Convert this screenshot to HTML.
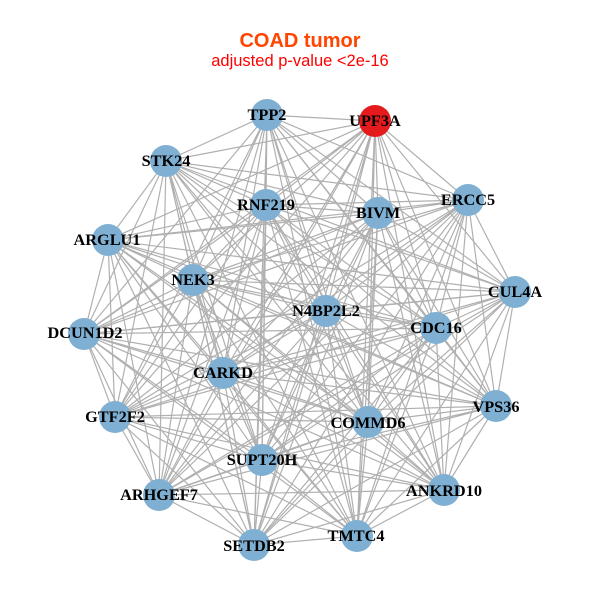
<!DOCTYPE html>
<html><head><meta charset="utf-8"><style>html,body{margin:0;padding:0;background:#fff}svg{display:block}</style></head><body>
<svg width="600" height="600" viewBox="0 0 600 600" xmlns="http://www.w3.org/2000/svg">
<rect width="600" height="600" fill="#fff"/>
<text x="300" y="47" text-anchor="middle" font-family="'Liberation Sans',sans-serif" font-weight="bold" font-size="20" fill="#FF4500">COAD tumor</text>
<text x="300" y="66" text-anchor="middle" font-family="'Liberation Sans',sans-serif" font-size="16.5" fill="#FF0000">adjusted p-value &lt;2e-16</text>
<g fill="none" stroke="#b0b0b0" stroke-width="1.2">
<path d="M267 115L375 121M267 115L166 161M267 115L468 200M267 115L266 205M267 115L378 213M267 115L193 280M267 115L515 292M267 115L326 311M267 115L436 328M267 115L84 334M267 115L223 373M267 115L496 406M267 115L115 417M267 115L368 422M267 115L262 460M267 115L444 490M267 115L159 495M267 115L357 536M267 115L254 545"/>
<path d="M375 121L166 161M375 121L468 200M375 121L266 205M375 121L378 213M375 121L108 240M375 121L193 280M375 121L515 292M375 121L326 311M375 121L436 328M375 121L84 334M375 121L223 373M375 121L496 406M375 121L115 417M375 121L368 422M375 121L262 460M375 121L444 490M375 121L159 495M375 121L357 536M375 121L254 545"/>
<path d="M166 161L468 200M166 161L266 205M166 161L378 213M166 161L108 240M166 161L193 280M166 161L515 292M166 161L326 311M166 161L436 328M166 161L84 334M166 161L223 373M166 161L496 406M166 161L115 417M166 161L368 422M166 161L262 460M166 161L444 490M166 161L159 495M166 161L357 536M166 161L254 545"/>
<path d="M468 200L266 205M468 200L378 213M468 200L108 240M468 200L193 280M468 200L515 292M468 200L326 311M468 200L436 328M468 200L84 334M468 200L223 373M468 200L496 406M468 200L115 417M468 200L368 422M468 200L262 460M468 200L444 490M468 200L159 495M468 200L357 536M468 200L254 545"/>
<path d="M266 205L378 213M266 205L108 240M266 205L193 280M266 205L515 292M266 205L326 311M266 205L436 328M266 205L84 334M266 205L223 373M266 205L496 406M266 205L115 417M266 205L368 422M266 205L262 460M266 205L444 490M266 205L159 495M266 205L357 536M266 205L254 545"/>
<path d="M378 213L108 240M378 213L193 280M378 213L515 292M378 213L326 311M378 213L436 328M378 213L84 334M378 213L223 373M378 213L496 406M378 213L115 417M378 213L368 422M378 213L262 460M378 213L444 490M378 213L159 495M378 213L357 536M378 213L254 545"/>
<path d="M108 240L193 280M108 240L515 292M108 240L326 311M108 240L436 328M108 240L84 334M108 240L223 373M108 240L496 406M108 240L115 417M108 240L368 422M108 240L262 460M108 240L444 490M108 240L159 495M108 240L357 536M108 240L254 545"/>
<path d="M193 280L515 292M193 280L326 311M193 280L436 328M193 280L84 334M193 280L223 373M193 280L496 406M193 280L115 417M193 280L368 422M193 280L262 460M193 280L444 490M193 280L159 495M193 280L357 536M193 280L254 545"/>
<path d="M515 292L326 311M515 292L436 328M515 292L84 334M515 292L223 373M515 292L496 406M515 292L115 417M515 292L368 422M515 292L262 460M515 292L444 490M515 292L159 495M515 292L357 536M515 292L254 545"/>
<path d="M326 311L436 328M326 311L84 334M326 311L223 373M326 311L496 406M326 311L115 417M326 311L368 422M326 311L262 460M326 311L444 490M326 311L159 495M326 311L357 536M326 311L254 545"/>
<path d="M436 328L84 334M436 328L223 373M436 328L496 406M436 328L115 417M436 328L368 422M436 328L262 460M436 328L444 490M436 328L159 495M436 328L357 536M436 328L254 545"/>
<path d="M84 334L223 373M84 334L496 406M84 334L115 417M84 334L368 422M84 334L262 460M84 334L444 490M84 334L159 495M84 334L357 536M84 334L254 545"/>
<path d="M223 373L496 406M223 373L115 417M223 373L368 422M223 373L262 460M223 373L444 490M223 373L159 495M223 373L357 536M223 373L254 545"/>
<path d="M496 406L115 417M496 406L368 422M496 406L262 460M496 406L444 490M496 406L159 495M496 406L357 536M496 406L254 545"/>
<path d="M115 417L368 422M115 417L262 460M115 417L444 490M115 417L159 495M115 417L357 536M115 417L254 545"/>
<path d="M368 422L262 460M368 422L444 490M368 422L159 495M368 422L357 536M368 422L254 545"/>
<path d="M262 460L444 490M262 460L159 495M262 460L357 536M262 460L254 545"/>
<path d="M444 490L159 495M444 490L357 536M444 490L254 545"/>
<path d="M159 495L357 536M159 495L254 545"/>
<path d="M357 536L254 545"/>
</g>
<g fill="#7FB0D3">
<circle cx="267" cy="115" r="16"/>
<circle cx="375" cy="121" r="16" fill="#E41A1C"/>
<circle cx="166" cy="161" r="16"/>
<circle cx="468" cy="200" r="16"/>
<circle cx="266" cy="205" r="16"/>
<circle cx="378" cy="213" r="16"/>
<circle cx="108" cy="240" r="16"/>
<circle cx="193" cy="280" r="16"/>
<circle cx="515" cy="292" r="16"/>
<circle cx="326" cy="311" r="16"/>
<circle cx="436" cy="328" r="16"/>
<circle cx="84" cy="334" r="16"/>
<circle cx="223" cy="373" r="16"/>
<circle cx="496" cy="406" r="16"/>
<circle cx="115" cy="417" r="16"/>
<circle cx="368" cy="422" r="16"/>
<circle cx="262" cy="460" r="16"/>
<circle cx="444" cy="490" r="16"/>
<circle cx="159" cy="495" r="16"/>
<circle cx="357" cy="536" r="16"/>
<circle cx="254" cy="545" r="16"/>
</g>
<g font-family="'Liberation Serif',serif" font-weight="bold" font-size="16.3" fill="#000" text-anchor="middle">
<text x="267" y="120">TPP2</text>
<text x="375" y="126">UPF3A</text>
<text x="166" y="166">STK24</text>
<text x="468" y="205">ERCC5</text>
<text x="266" y="210">RNF219</text>
<text x="378" y="218">BIVM</text>
<text x="107" y="245">ARGLU1</text>
<text x="193" y="285">NEK3</text>
<text x="515" y="297">CUL4A</text>
<text x="326" y="316">N4BP2L2</text>
<text x="436" y="333">CDC16</text>
<text x="85" y="338">DCUN1D2</text>
<text x="223" y="378">CARKD</text>
<text x="496" y="412">VPS36</text>
<text x="115" y="422">GTF2F2</text>
<text x="368" y="428">COMMD6</text>
<text x="262" y="465">SUPT20H</text>
<text x="444" y="496">ANKRD10</text>
<text x="159" y="500">ARHGEF7</text>
<text x="356" y="541">TMTC4</text>
<text x="254" y="551">SETDB2</text>
</g>
</svg>
</body></html>
